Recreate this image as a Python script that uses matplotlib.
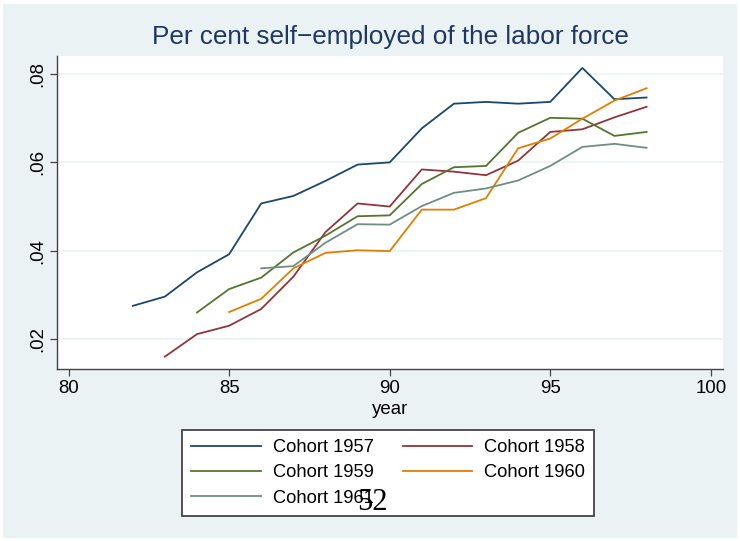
import numpy as np
import matplotlib.pyplot as plt
from matplotlib.patches import Rectangle

plt.rcParams['font.family'] = ['Liberation Sans', 'DejaVu Sans']

# data
years57 = [82, 83, 84, 85, 86, 87, 88, 89, 90, 91, 92, 93, 94, 95, 96, 97, 98]
c1957 = [.0275, .0296, .0351, .0392, .0507, .0524, .0558, .0595, .0600, .0677,
         .0733, .0737, .0733, .0737, .0814, .0743, .0747]
years58 = [83, 84, 85, 86, 87, 88, 89, 90, 91, 92, 93, 94, 95, 96, 97, 98]
c1958 = [.0160, .0211, .0230, .0268, .0341, .0442, .0507, .0500, .0584, .0579,
         .0571, .0604, .0669, .0675, .0702, .0726]
years59 = [84, 85, 86, 87, 88, 89, 90, 91, 92, 93, 94, 95, 96, 97, 98]
c1959 = [.0260, .0313, .0339, .0396, .0434, .0478, .0480, .0551, .0589, .0592,
         .0667, .0701, .0699, .0660, .0669]
years60 = [85, 86, 87, 88, 89, 90, 91, 92, 93, 94, 95, 96, 97, 98]
c1960 = [.0261, .0291, .0360, .0395, .0401, .0399, .0493, .0493, .0519, .0632,
         .0654, .0699, .0740, .0768]
years61 = [86, 87, 88, 89, 90, 91, 92, 93, 94, 95, 96, 97, 98]
c1961 = [.0360, .0365, .0418, .0460, .0459, .0501, .0531, .0541, .0559, .0592,
         .0635, .0642, .0633]

series = [(years57, c1957, "Cohort 1957", "#1a476f"),
          (years58, c1958, "Cohort 1958", "#90353b"),
          (years59, c1959, "Cohort 1959", "#55752f"),
          (years60, c1960, "Cohort 1960", "#e37e00"),
          (years61, c1961, "Cohort 1961", "#6e8e84")]

W, H = 740, 541
bg = "#eaf2f3"
fig = plt.figure(figsize=(W / 100, H / 100), dpi=100, facecolor="white")
fig.patches.append(Rectangle((3 / W, 3 / H), (W - 6) / W, (H - 7) / H,
                             transform=fig.transFigure, facecolor=bg,
                             edgecolor="none", zorder=-10))

# plot region in pixels: left 57, right 723, top 56, bottom 369
ax = fig.add_axes([57 / W, 1 - 369 / H, (723 - 57) / W, (369 - 56) / H])
ax.set_facecolor("white")

lines = []
for x, y, lab, col in series:
    l, = ax.plot(x, y, color=col, lw=1.3, label=lab)
    lines.append(l)

ax.set_xlim(79.64, 100.38)
ax.set_ylim(.0132, .0841)
ax.set_xticks([80, 85, 90, 95, 100])
ax.set_xticklabels(["80", "85", "90", "95", "100"])
ax.set_yticks([.02, .04, .06, .08])
ax.set_yticklabels([".02", ".04", ".06", ".08"], rotation=90, va="center")
ax.grid(axis="y", color=bg, lw=1.2)
ax.set_axisbelow(True)
for s in ["top", "right"]:
    ax.spines[s].set_visible(False)
for s in ["left", "bottom"]:
    ax.spines[s].set_color("#444444")
    ax.spines[s].set_linewidth(1.0)
ax.tick_params(length=5, width=0.9, color="#444444", labelsize=13.4, pad=3)
ax.set_xlabel("year", fontsize=13.4, labelpad=3)

fig.text(390 / W, 1 - 37 / H, "Per cent self\u2212employed of the labor force",
         ha="center", va="center", fontsize=18.8, color="#1e3763")

# legend fills row by row in the reference
order = [0, 2, 4, 1, 3]
leg = fig.legend(handles=[lines[i] for i in order], ncol=2, loc="upper left",
                 bbox_to_anchor=(182 / W, 1 - 430 / H),
                 fontsize=13.2, frameon=True, fancybox=False,
                 handlelength=3.8, handletextpad=0.64, columnspacing=1.6,
                 labelspacing=0.45, borderpad=0.5, borderaxespad=0)
leg.get_frame().set_edgecolor("#333333")
leg.get_frame().set_linewidth(1.2)
leg.get_frame().set_alpha(1)
leg.set_zorder(5)

fig.text(372 / W, 1 - 502 / H, "52", ha="center", va="center",
         fontsize=22, family="Liberation Serif", color="black", zorder=20)

fig.savefig("out.png", dpi=100, facecolor=fig.get_facecolor())
